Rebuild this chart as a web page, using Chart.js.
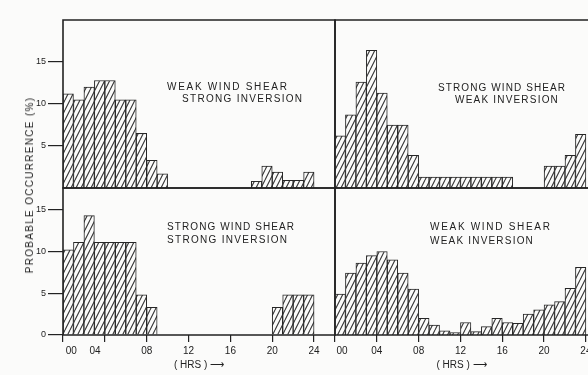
<!DOCTYPE html>
<html><head><meta charset="utf-8">
<script src="https://cdn.jsdelivr.net/npm/chart.js@4/dist/chart.umd.min.js"></script>
<style>
html,body{margin:0;padding:0;background:#fbfbfa;overflow:hidden;}
#wrap{position:relative;width:588px;height:375px;}
canvas{position:absolute;left:0;top:0;}
.lbl{position:absolute;font-family:"Liberation Sans",Arial,sans-serif;font-size:10px;letter-spacing:1.7px;color:#222;white-space:nowrap;line-height:10px;}
.s1{letter-spacing:1.1px;}
.s2{letter-spacing:1.3px;}
.s3{letter-spacing:1.2px;}
#ytitle{position:absolute;left:30px;top:185px;transform:translate(-50%,-50%) rotate(-90deg);font-family:"Liberation Sans",Arial,sans-serif;font-size:10px;letter-spacing:1.3px;color:#222;white-space:nowrap;line-height:10px;}
</style></head><body>
<div id="wrap">
<canvas id="c1" width="588" height="375"></canvas>
<canvas id="c2" width="588" height="375"></canvas>
<canvas id="c3" width="588" height="375"></canvas>
<canvas id="c4" width="588" height="375"></canvas>
<div id="ytitle">PROBABLE OCCURRENCE (%)</div>
<div class="lbl" style="left:167px;top:82px">WEAK WIND SHEAR</div>
<div class="lbl s2" style="left:182px;top:94px">STRONG INVERSION</div>
<div class="lbl s1" style="left:438px;top:83px">STRONG WIND SHEAR</div>
<div class="lbl s3" style="left:455px;top:95px">WEAK INVERSION</div>
<div class="lbl s1" style="left:167px;top:222px">STRONG WIND SHEAR</div>
<div class="lbl s2" style="left:167px;top:235px">STRONG INVERSION</div>
<div class="lbl" style="left:430px;top:222px">WEAK WIND SHEAR</div>
<div class="lbl s3" style="left:430px;top:236px">WEAK INVERSION</div>
</div>
<script>
// hour bins (start hour of each 1-hour bar)
const hours = [0,1,2,3,4,5,6,7,8,9,10,11,12,13,14,15,16,17,18,19,20,21,22,23];
const xTickLabels = ['00','04','08','12','16','20','24'];
// Probable occurrence (%) per hour
const weakShearStrongInv   = [11.2,10.5,12.0,12.8,12.8,10.5,10.5,6.5,3.3,1.7,0,0,0,0,0,0,0,0,0.8,2.6,1.9,0.9,0.9,1.9];
const strongShearWeakInv   = [6.2,8.7,12.6,16.4,11.3,7.5,7.5,3.9,1.3,1.3,1.3,1.3,1.3,1.3,1.3,1.3,1.3,0,0,0,2.6,2.6,3.9,6.4];
const strongShearStrongInv = [10.2,11.1,14.3,11.1,11.1,11.1,11.1,4.8,3.3,0,0,0,0,0,0,0,0,0,0,0,3.3,4.8,4.8,4.8];
const weakShearWeakInv     = [4.9,7.4,8.6,9.5,10.0,9.0,7.4,5.5,2.0,1.2,0.5,0.3,1.5,0.4,1.0,2.0,1.5,1.4,2.5,3.0,3.6,4.0,5.6,8.1];

const FONT = '"Liberation Sans", Arial, sans-serif';
const INK = '#222';

function makeHatch(){
  const c = document.createElement('canvas'); c.width = 5; c.height = 10;
  const g = c.getContext('2d');
  g.fillStyle = '#fbfbfa'; g.fillRect(0,0,5,10);
  g.strokeStyle = '#353535'; g.lineWidth = 1.1;
  g.beginPath();
  for (const o of [-5,0,5]) { g.moveTo(o,10); g.lineTo(o+5,0); }
  g.stroke();
  return g.createPattern(c,'repeat');
}
const hatch = makeHatch();

const framePlugin = {
  id:'frame',
  afterDatasetsDraw(chart, args, o){
    const {left,top,right,bottom} = chart.chartArea;
    const ctx = chart.ctx;
    ctx.save();
    ctx.strokeStyle = INK; ctx.lineWidth = 1.6; ctx.lineCap='square';
    ctx.beginPath();
    ctx.moveTo(left,top); ctx.lineTo(right,top);
    ctx.moveTo(left,top); ctx.lineTo(left,bottom);
    ctx.moveTo(left,bottom); ctx.lineTo(right,bottom);
    if (o.right) { ctx.moveTo(right,top); ctx.lineTo(right,bottom); }
    ctx.stroke();
    ctx.restore();
  }
};

function makeChart(id, values, cfg){
  const fixPad = s => { s.paddingLeft = 0; s.paddingRight = 0; s.paddingTop = 0; s.paddingBottom = 0; };
  const xLabel = v => {
    const i = Math.round(v / 4);
    let s = xTickLabels[i];
    if (s === undefined) return null;
    if (i === 0) s = (cfg.showY ? '      ' : '     ') + s;
    if (i === 1 && cfg.showY) s = s + '       ';
    return s;
  };
  new Chart(document.getElementById(id), {
    type:'bar',
    data:{datasets:[{
      data: hours.map((h,i)=>({x:h+0.5, y: values[i] > 0 ? values[i] : null})),
      backgroundColor: hatch, borderColor: '#262626', borderWidth: 1,
      barPercentage: 1, categoryPercentage: 1, grouped: false
    }]},
    plugins:[framePlugin],
    options:{
      responsive:false, animation:false, events:[],
      layout:{padding: cfg.padding},
      plugins:{legend:{display:false}, tooltip:{enabled:false}, frame:{right: cfg.rightBorder}},
      scales:{
        x:{
          type:'linear', min:0, max:cfg.xmax, display: cfg.showX, offset:false,
          border:{display:false},
          grid:{drawOnChartArea:false, drawTicks:true, tickLength:7, color:INK, lineWidth:1.2, offset:false},
          ticks:{stepSize:4, includeBounds:false, autoSkip:false, maxRotation:0, padding:3,
                 color:'#222', font:{family:FONT, size:10}, callback: xLabel},
          title:{display:true, text:'( HRS ) ⟶', color:'#222', font:{family:FONT, size:10}, padding:{top:2, bottom:4}},
          afterFit: s => { fixPad(s); if (cfg.showX) s.height = 40; }
        },
        y:{
          min:0, max:cfg.ymax, display: cfg.showY,
          border:{display:false},
          grid:{drawOnChartArea:false, drawTicks:true, tickLength:15, color:INK, lineWidth:1.2},
          ticks:{stepSize:5, includeBounds:false, padding:2, color:'#222', font:{family:FONT, size:9},
                 callback: v => (v === 0 && !cfg.showZero) || v > 15 ? null : String(v)},
          afterFit: s => { fixPad(s); if (cfg.showY) s.width = 63; }
        }
      }
    }
  });
}

makeChart('c1', weakShearStrongInv,   {xmax:26,   ymax:20,   showX:false, showY:true,  showZero:false, rightBorder:true,  padding:{left:0,   top:20,  right:253, bottom:187}});
makeChart('c2', strongShearWeakInv,   {xmax:24.2, ymax:20,   showX:false, showY:false, showZero:false, rightBorder:false, padding:{left:335, top:20,  right:0,   bottom:187}});
makeChart('c3', strongShearStrongInv, {xmax:26,   ymax:17.6, showX:true,  showY:true,  showZero:true,  rightBorder:true,  padding:{left:0,   top:188, right:253, bottom:0}});
makeChart('c4', weakShearWeakInv,     {xmax:24.2, ymax:17.6, showX:true,  showY:false, showZero:true,  rightBorder:false, padding:{left:335, top:188, right:0,   bottom:0}});
</script>
</body></html>
